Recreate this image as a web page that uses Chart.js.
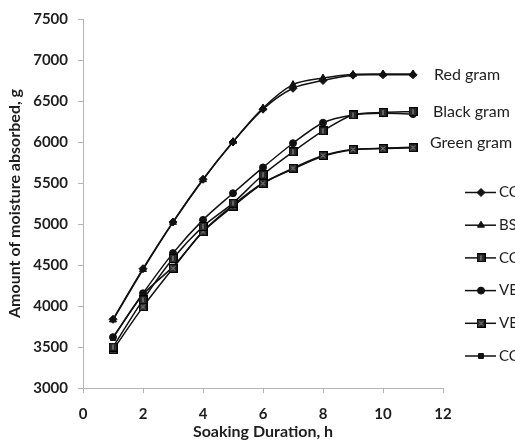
<!DOCTYPE html>
<html>
<head>
<meta charset="utf-8">
<script src="https://cdn.jsdelivr.net/npm/chart.js"></script>
<style>
html,body{margin:0;padding:0;background:#fff;overflow:hidden;}
canvas{display:block;}
</style>
</head>
<body>
<canvas id="c" width="515" height="441"></canvas>
<script>
// ---- data ----
const hours = [1, 2, 3, 4, 5, 6, 7, 8, 9, 10, 11];
const ccRed    = [3838, 4455, 5025, 5545, 6000, 6400, 6655, 6750, 6815, 6820, 6820];
const bsRed    = [3830, 4445, 5020, 5540, 6005, 6415, 6700, 6780, 6825, 6830, 6830];
const ccBlack  = [3500, 4075, 4580, 4970, 5255, 5600, 5880, 6135, 6330, 6360, 6370];
const vbBlack  = [3620, 4155, 4645, 5050, 5375, 5690, 5985, 6235, 6330, 6350, 6340];
const vbGreen  = [3465, 3990, 4460, 4905, 5215, 5495, 5680, 5835, 5910, 5920, 5930];
const ccGreen  = [3610, 4140, 4480, 4910, 5230, 5500, 5670, 5825, 5905, 5925, 5935];
const seriesNames = ['CC', 'BS', 'CC', 'VB', 'VB', 'CC'];
const groupLabels = ['Red gram', 'Black gram', 'Green gram'];
const xTicks = [0, 2, 4, 6, 8, 10, 12];
const yTicks = [3000, 3500, 4000, 4500, 5000, 5500, 6000, 6500, 7000, 7500];

// ---- custom marker images ----
function makeMarker(kind) {
  const c = document.createElement('canvas');
  c.width = 9; c.height = 9;
  const g = c.getContext('2d');
  g.fillStyle = '#2a2a2a';
  g.fillRect(0, 0, 9, 9);
  g.strokeStyle = '#000';
  g.lineWidth = 1;
  g.strokeRect(0.5, 0.5, 8, 8);
  g.strokeStyle = '#9a9a9a';
  if (kind === 'bar') {
    g.beginPath(); g.moveTo(4.5, 2); g.lineTo(4.5, 7); g.stroke();
  } else {
    g.beginPath(); g.moveTo(2.5, 2.5); g.lineTo(6.5, 6.5);
    g.moveTo(6.5, 2.5); g.lineTo(2.5, 6.5); g.stroke();
  }
  return c;
}
const barSquare = makeMarker('bar');
const xSquare = makeMarker('x');

function pts(arr) { return hours.map((h, i) => ({x: h, y: arr[i]})); }
function ds(label, arr, style, radius) {
  return {
    label: label, data: pts(arr),
    borderColor: '#111', backgroundColor: '#111',
    borderWidth: 1.5, tension: 0.3,
    pointStyle: style, pointRadius: radius, pointHoverRadius: radius,
    pointBorderColor: '#111', pointBackgroundColor: '#111', pointBorderWidth: 1
  };
}
const datasets = [
  ds(seriesNames[0], ccRed, 'rectRot', 4),
  ds(seriesNames[1], bsRed, 'triangle', 4),
  ds(seriesNames[2], ccBlack, barSquare, 4),
  ds(seriesNames[3], vbBlack, 'circle', 3.5),
  ds(seriesNames[4], vbGreen, xSquare, 4),
  ds(seriesNames[5], ccGreen, 'rect', 3.5)
];

const textColor = '#1e1e1e';
const axisColor = '#b4b4b4';

const groupLabelPlugin = {
  id: 'groupLabels',
  afterDatasetsDraw(chart) {
    const ctx = chart.ctx;
    const xs = chart.scales.x, ys = chart.scales.y;
    const refs = [ccRed, ccBlack, ccGreen];
    const dy = [0, 0, -4];
    const dx = [21, 20, 17];
    ctx.save();
    ctx.font = '16px Lato';
    ctx.fillStyle = textColor;
    ctx.textBaseline = 'middle';
    ctx.textAlign = 'left';
    refs.forEach((arr, i) => {
      const last = arr.length - 1;
      const px = xs.getPixelForValue(hours[last]) + dx[i];
      const py = ys.getPixelForValue(arr[last]) + dy[i];
      ctx.fillText(groupLabels[i], px, py);
    });
    ctx.restore();
  }
};

const legendPlugin = {
  id: 'sideLegend',
  afterDraw(chart) {
    const ctx = chart.ctx;
    ctx.save();
    chart.data.datasets.forEach((d, i) => {
      const y = 192.5 + i * 32.7;
      ctx.strokeStyle = '#111';
      ctx.lineWidth = 1.5;
      ctx.beginPath(); ctx.moveTo(465, y); ctx.lineTo(496, y); ctx.stroke();
      ctx.fillStyle = '#111';
      ctx.strokeStyle = '#111';
      ctx.lineWidth = 1;
      Chart.helpers.drawPoint(ctx, {pointStyle: d.pointStyle, radius: d.pointRadius, rotation: 0, borderWidth: 1}, 481, y);
      ctx.font = '15px Lato';
      ctx.fillStyle = textColor;
      ctx.textBaseline = 'middle';
      ctx.textAlign = 'left';
      ctx.fillText(d.label, 499, y);
    });
    ctx.restore();
  }
};

new Chart(document.getElementById('c'), {
  type: 'line',
  data: {datasets: datasets},
  plugins: [groupLabelPlugin, legendPlugin],
  options: {
    responsive: false,
    animation: false,
    events: [],
    layout: {padding: {left: 0, right: 72, top: 19, bottom: 0}},
    plugins: {legend: {display: false}, tooltip: {enabled: false}},
    scales: {
      x: {
        type: 'linear', min: 0, max: 12,
        afterBuildTicks: s => { s.ticks = xTicks.map(v => ({value: v})); },
        afterFit: s => { s.height = 53; },
        grid: {display: true, drawOnChartArea: false, drawTicks: true, tickLength: 5, color: axisColor},
        border: {display: true, color: axisColor, width: 1},
        ticks: {color: textColor, font: {family: 'Lato', size: 15, weight: 'bold'}, padding: 12, maxRotation: 0,
                callback: v => String(v)},
        title: {display: true, text: 'Soaking Duration, h', color: textColor,
                font: {family: 'Lato', size: 16, weight: 'bold'}, padding: {top: 0, bottom: 0}}
      },
      y: {
        type: 'linear', min: 3000, max: 7500,
        afterBuildTicks: s => { s.ticks = yTicks.map(v => ({value: v})); },
        afterFit: s => { s.width = 83; },
        grid: {display: true, drawOnChartArea: false, drawTicks: true, tickLength: 5, color: axisColor},
        border: {display: true, color: axisColor, width: 1},
        ticks: {color: textColor, font: {family: 'Lato', size: 15, weight: 'bold'}, padding: 10,
                callback: v => String(v)},
        title: {display: true, text: 'Amount of moisture absorbed, g', color: textColor,
                font: {family: 'Lato', size: 16, weight: 'bold'}, padding: {top: 5, bottom: 0}}
      }
    }
  }
});
</script>
</body>
</html>
